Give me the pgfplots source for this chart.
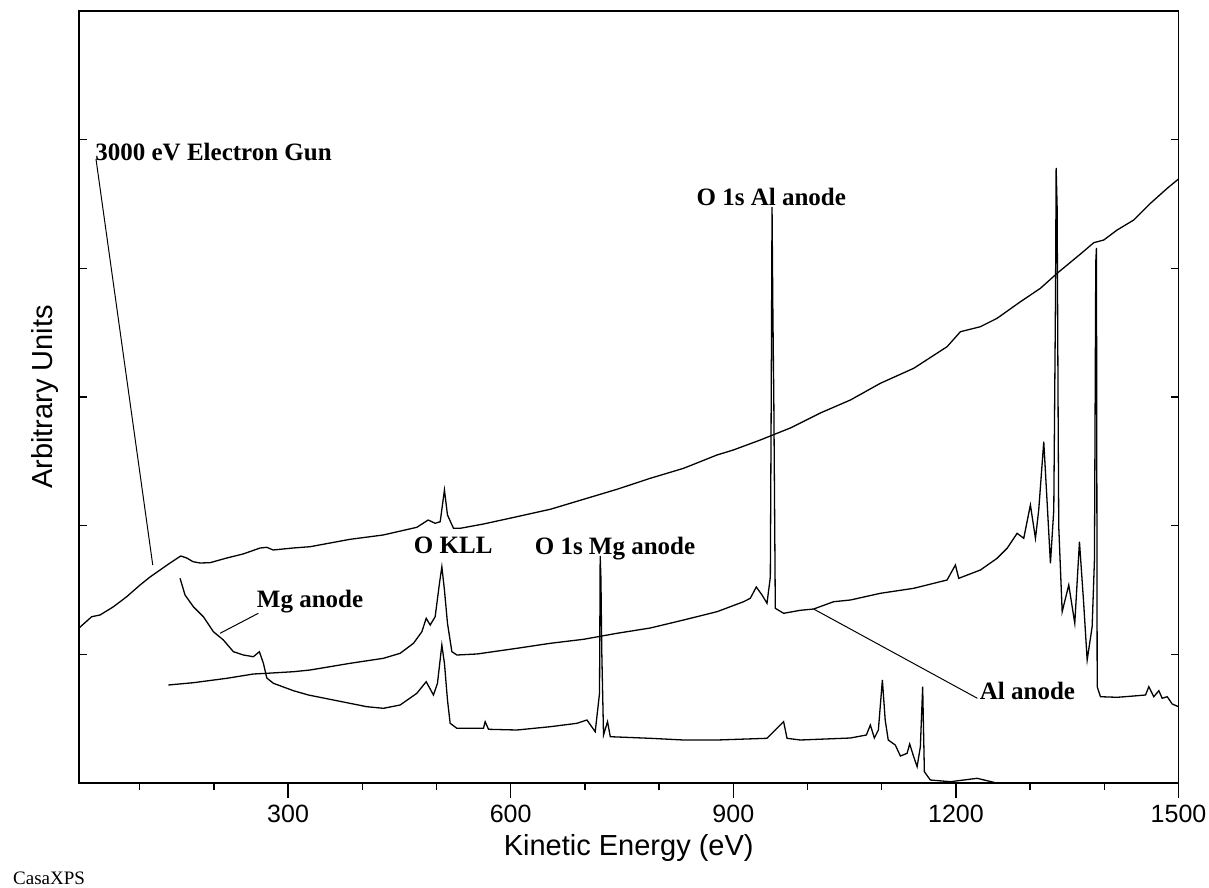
\documentclass[border=0pt]{standalone}
\usepackage{pgfplots}
\pgfplotsset{compat=1.18}
\usepackage{fontspec}
\setmainfont{Liberation Serif}
\newfontfamily\arial{Liberation Sans}
\begin{document}
\begin{tikzpicture}
\useasboundingbox (-79pt,-104pt) rectangle (1130pt,783pt);
% --- main axis: data, x ticks (outside) ---
\begin{axis}[
  at={(0pt,0pt)}, anchor=south west,
  scale only axis, width=1099.5pt, height=772pt,
  xmin=18.2, xmax=1500, ymin=0, ymax=772,
  axis line style={line width=1.6pt},
  xtick={300,600,900,1200,1500},
  minor xtick={100,200,400,500,700,800,1000,1100,1300,1400},
  xtick pos=bottom, tick align=outside,
  major tick length=15pt, minor tick length=7pt,
  every tick/.style={black, line width=1.4pt},
  ytick=\empty,
  /pgf/number format/assume math mode=true,
  /pgf/number format/1000 sep={},
  xticklabel style={font=\arial\fontsize{25}{28}\selectfont, yshift=-4pt},
  xlabel={Kinetic Energy (eV)},
  xlabel style={font=\arial\fontsize{29}{32}\selectfont, at={(axis description cs:0.5,-0.0842)}, anchor=center},
  ylabel={Arbitrary Units},
  ylabel style={font=\arial\fontsize{29}{32}\selectfont, at={(axis description cs:-0.0309,0.5)}, anchor=center},
  clip=false,
]
% 3000 eV electron gun
\addplot[black, line width=1.3pt] coordinates {
(18.2,155) (35.3,166.3) (46.5,168) (64.1,176) (82.5,186.3) (100.5,198) (113.9,206)
(127.4,213) (140.9,220) (155.3,227) (163.4,225) (171.9,221.3) (181.4,220) (194.8,220.3)
(217.4,225) (239.3,229) (262.3,235) (271.3,235.7) (279.8,233) (306.8,235) (329.7,236.3)
(383.6,243.7) (428.1,248) (473.5,255.7) (488.8,263) (498.2,259.7) (505.0,261.3)
(510.7,293) (514.8,268) (522.9,254.7) (531.9,254.7) (563.3,259) (608.4,266.3)
(653.3,273.7) (698.2,283.7) (743.2,293.7) (788.1,304.7) (833.0,314.7) (878.0,328)
(900.0,333) (936.4,343) (976.9,355) (1017.3,370) (1057.8,383) (1098.2,399.7)
(1143.1,414.7) (1188.1,436.3) (1206.1,451.3) (1233.0,456.3) (1255.5,464.7)
(1287.0,481.3) (1313.9,494.7) (1336.4,509.7) (1367.9,529) (1385.8,540.3) (1399.3,543)
(1417.3,553) (1439.7,563) (1462.2,579.7) (1484.8,594.7) (1500,604)
};
% Al anode
\addplot[black, line width=1.3pt] coordinates {
(138.6,98) (172.3,100.3) (217.4,104.7) (253.2,109) (271.3,109.7) (307.2,111.3) (329.7,113)
(383.6,119.7) (428.5,124.7) (451.0,129.7) (469.0,139.7) (480.3,151.3) (486.1,164.7)
(491.5,158) (498.2,166.3) (504.0,199.7) (507.2,216.3) (510.7,193) (514.8,159.7)
(520.7,131.3) (527.5,128) (554.4,129) (608.4,134.7) (653.3,139.7) (698.2,143.7)
(743.2,149.7) (788.1,155) (833.0,163) (878.0,171.3) (913.9,181.3) (922.9,184.7)
(931.0,196) (938.7,188) (945.4,179.7) (949.9,206) (951.2,400) (952.2,576) (953.3,473)
(954.6,383) (956.6,174.7) (967.8,169.7) (990.3,172.7) (1008.3,174) (1035.2,181.3)
(1057.8,183) (1098.2,189.7) (1143.1,194.7) (1188.1,203) (1199.3,218) (1203.8,204.7)
(1233.0,213) (1255.5,224.7) (1269.0,234.7) (1282.5,249.7) (1291.4,244.7) (1300.4,278)
(1307.2,244.7) (1311.6,273) (1318.4,341.3) (1323.0,279.7) (1327.4,219.7) (1331.9,273)
(1334.2,483) (1335.1,615) (1336.4,576) (1337.8,363) (1338.6,256.3) (1343.2,171.3)
(1352.1,198) (1360.2,159.7) (1366.5,241.3) (1371.9,183) (1376.9,123) (1383.6,156.3)
(1386.7,223) (1388.5,521) (1389.4,535) (1390.4,96.3) (1394.8,86.3) (1417.3,85.7)
(1439.7,87) (1455.5,88) (1460.0,96.3) (1466.7,86.3) (1473.5,92.3) (1478.0,84.7)
(1484.8,86.3) (1491.5,79) (1500,76.3)
};
% Mg anode
\addplot[black, line width=1.3pt] coordinates {
(154.4,204.7) (161.1,188) (172.3,176.3) (185.8,166.3) (199.3,151.3) (212.8,143)
(226.3,131.3) (239.7,128) (253.2,126.3) (261.3,131.3) (266.7,119.7) (271.3,105)
(280.2,99.7) (307.2,92.3) (327.4,88) (361.1,83) (406.1,76.3) (428.5,74.7) (451.0,78)
(473.5,89.7) (486.1,101.3) (495.9,88) (501.3,99.7) (507.2,138) (510.7,119.7) (514.8,83)
(518.4,59.7) (527.5,54.7) (563.3,54.7) (565.6,61.3) (570.1,53.7) (608.4,53) (653.3,56.3)
(689.3,59.7) (702.7,63) (713.9,51.3) (719.7,89.7) (720.6,227) (721.6,205) (722.7,133)
(725.1,48) (730.5,61.3) (734.2,46.3) (788.1,44.7) (833.0,43) (878.0,43) (945.4,44.7)
(967.8,61.3) (972.4,44.7) (990.3,43) (1057.8,45) (1079.3,48) (1084.7,58) (1090.1,45)
(1095.5,53) (1100.9,103) (1104.7,63) (1108.8,43) (1118.3,38) (1125.2,27) (1134.2,29.7)
(1137.7,39) (1143.1,26.3) (1147.7,16.3) (1152.1,36.3) (1155.2,96.3) (1157.5,11.3)
(1165.5,3) (1192.6,1.3) (1228.6,4.7) (1253.2,0.3)
};
% annotations
\draw[black, line width=1pt] (axis cs:41.1,624) -- (axis cs:117.6,218);
\node[anchor=west, font=\fontsize{25}{28}\selectfont\bfseries, inner sep=0pt] at (axis cs:40,631) {3000 eV Electron Gun};
\draw[black, line width=1pt] (axis cs:259.9,169.7) -- (axis cs:208.3,149.7);
\node[anchor=west, font=\fontsize{25}{28}\selectfont\bfseries, inner sep=0pt] at (axis cs:257.8,181.3) {Mg anode};
\node[font=\fontsize{25}{28}\selectfont\bfseries, inner sep=0pt] at (axis cs:522.5,238) {O KLL};
\node[font=\fontsize{25}{28}\selectfont\bfseries, inner sep=0pt] at (axis cs:740.6,234.7) {O 1s Mg anode};
\node[font=\fontsize{25}{28}\selectfont\bfseries, inner sep=0pt] at (axis cs:951.2,586) {O 1s Al anode};
\draw[black, line width=1pt] (axis cs:1008.3,174) -- (axis cs:1229.0,84.7);
\node[anchor=west, font=\fontsize{25}{28}\selectfont\bfseries, inner sep=0pt] at (axis cs:1232.1,92.3) {Al anode};
\end{axis}
% --- overlay axis: y ticks (inside, both sides) ---
\begin{axis}[
  at={(0pt,0pt)}, anchor=south west,
  scale only axis, width=1099.5pt, height=772pt,
  xmin=18.2, xmax=1500, ymin=0, ymax=772,
  axis line style={line width=1.6pt},
  xtick=\empty,
  ytick={0,128.667,257.333,386,514.667,643.333,772},
  minor y tick num=4,
  yticklabels={},
  tick align=inside,
  major tick length=8pt, minor tick length=4pt,
  every tick/.style={black, line width=1.4pt},
]
\end{axis}
\node[anchor=west, font=\fontsize{19}{22}\selectfont, inner sep=0pt] at (-66pt,-95pt) {CasaXPS};
\end{tikzpicture}
\end{document}
